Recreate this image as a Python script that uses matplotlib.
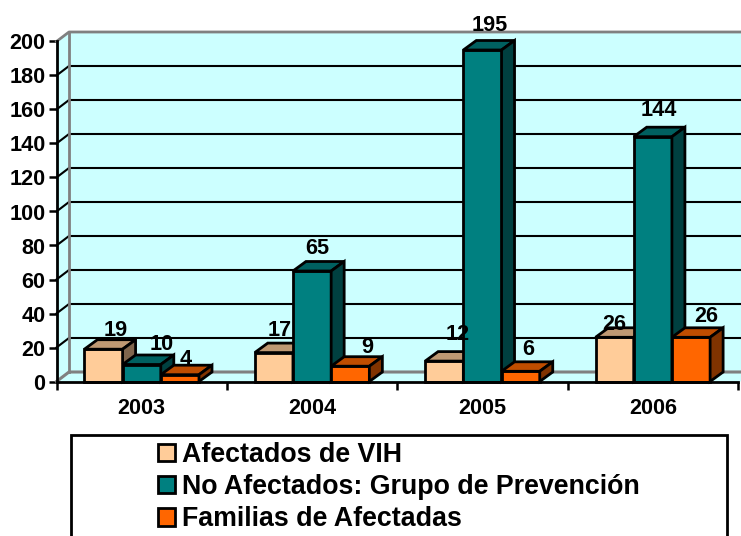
import matplotlib
matplotlib.use("Agg")
import matplotlib.pyplot as plt
from matplotlib.patches import Polygon, Rectangle, Patch

plt.rcParams['font.family'] = ['Liberation Sans', 'DejaVu Sans']
plt.rcParams['font.weight'] = 'bold'

years = ['2003', '2004', '2005', '2006']
afectados = [19, 17, 12, 26]
no_afectados = [10, 65, 195, 144]
familias = [4, 9, 6, 26]
series_names = ['Afectados de VIH', 'No Afectados: Grupo de Prevención', 'Familias de Afectadas']
yticks = list(range(0, 201, 20))

W, H = 741, 536
fig = plt.figure(figsize=(W / 100, H / 100), dpi=100, facecolor='white')
L, R, T, B = 56.5, 738, 41.5, 381.5
ax = fig.add_axes([L / W, 1 - B / H, (R - L) / W, (B - T) / H])
ax.set_xlim(0, 4)
ax.set_ylim(0, 200)
ax.patch.set_visible(False)

px = 4 / (R - L)          # data units per pixel, x
py = 200 / (B - T)        # data units per pixel, y
DX, DY = 12.5 * px, 9.5 * py   # depth of the back wall
BX, BY = 13 * px, 9.5 * py     # depth of the bars
WALL = '#CCFFFF'
GREY = '#808080'


def poly(pts, fc, ec='none', lw=0, z=1):
    ax.add_patch(Polygon(pts, closed=True, fc=fc, ec=ec, lw=lw, zorder=z,
                         clip_on=False, joinstyle='miter'))


xmax = 4
# walls and floor
poly([(0, 0), (DX, DY), (DX, 200 + DY), (xmax + DX, 200 + DY), (xmax, 200), (xmax, 0)], WALL)
poly([(0, 200), (DX, 200 + DY), (xmax + DX, 200 + DY), (xmax + DX, 0), (0, 0)], WALL)
# grid on back wall and side wall
for v in yticks[1:-1]:
    ax.plot([0, DX, xmax + DX], [v, v + DY, v + DY], color='black', lw=1.5, zorder=2,
            clip_on=False, solid_joinstyle='miter')
# grey frame of the back wall
ax.plot([0, DX, xmax + DX], [200, 200 + DY, 200 + DY], color=GREY, lw=2, zorder=2, clip_on=False)
ax.plot([DX, DX], [DY, 200 + DY], color=GREY, lw=2, zorder=2, clip_on=False)
ax.plot([0, DX, xmax + DX], [0, DY, DY], color=GREY, lw=2.2, zorder=2, clip_on=False)

# bars
colors = [('#FFCC99', '#BF9973', '#80664D'),
          ('#008080', '#006060', '#004040'),
          ('#FF6600', '#BF4D00', '#803300')]
all_series = [afectados, no_afectados, familias]
bw = 38.2 * px
z = 3
for i in range(len(years)):
    for j, vals in enumerate(all_series):
        v = vals[i]
        x0 = i + 0.5 + (j - 1.5) * bw
        x1 = x0 + bw
        front, top, side = colors[j]
        poly([(x0, 0), (x1, 0), (x1, v), (x0, v)], front, 'black', 2, z)
        poly([(x0, v), (x1, v), (x1 + BX, v + BY), (x0 + BX, v + BY)], top, 'black', 2, z)
        poly([(x1, 0), (x1 + BX, BY), (x1 + BX, v + BY), (x1, v)], side, 'black', 2, z)
        z += 1

# data labels: pixel offsets from the front centre of each bar top
offs = [[(12, 19), (20, 20), (6, 15)],
        [(6, 22), (5, 23), (17, 19)],
        [(13, 27), (7, 24), (8, 22)],
        [(0, 13), (6, 26), (15, 21)]]
for i in range(len(years)):
    for j, vals in enumerate(all_series):
        x = i + 0.5 + (j - 1) * bw
        ox, oy = offs[i][j]
        ax.annotate(str(vals[i]), (x, vals[i]), xytext=(ox * 0.72, oy * 0.72),
                    textcoords='offset points', ha='center', va='center',
                    fontsize=15.6, fontweight='bold', color='black',
                    zorder=50, annotation_clip=False)

# axes
for s in ('top', 'right'):
    ax.spines[s].set_visible(False)
for s in ('left', 'bottom'):
    ax.spines[s].set_linewidth(2)
    ax.spines[s].set_zorder(40)
ax.set_yticks(yticks)
ax.set_yticklabels([str(v) for v in yticks], fontsize=15.6, fontweight='bold')
ax.set_xticks(range(5))
ax.set_xticklabels([''] * 5)
ax.tick_params(axis='y', length=6, width=1.8, pad=2)
ax.tick_params(axis='x', length=6, width=1.8, pad=0)
for i, y in enumerate(years):
    ax.annotate(y, (i + 0.5, 0), xytext=(0, -27 * 0.72), textcoords='offset points',
                ha='center', va='center', fontsize=15.6, fontweight='bold', annotation_clip=False)

# legend box
fig.add_artist(Rectangle((70.5 / W, -0.02), (727 - 70.5) / W, 0.02 + 1 - 435 / H,
                         transform=fig.transFigure, fc='white', ec='black', lw=2))
handles = [Patch(fc=c[0], ec='black', lw=2) for c in colors]
leg = fig.legend(handles, series_names, loc='upper left',
                 bbox_to_anchor=(158 / W, 1 - 442 / H), frameon=False,
                 prop={'family': 'Liberation Sans', 'weight': 'bold', 'size': 19.3},
                 handlelength=0.62, handleheight=0.62, handletextpad=0.28,
                 labelspacing=0.23, borderpad=0, borderaxespad=0)
leg.set_zorder(60)

fig.savefig('out.png', dpi=100)
